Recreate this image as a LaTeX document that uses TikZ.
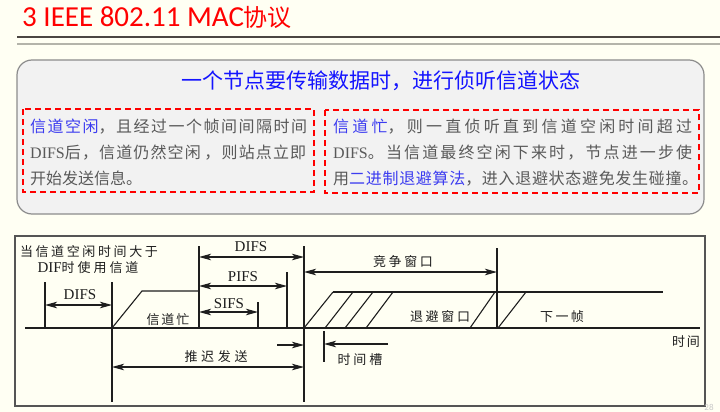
\documentclass[tikz,border=0pt]{standalone}
\usepackage{fontspec}
\setmainfont{Liberation Serif}
\newfontfamily\cjk{Noto Sans CJK SC}
\newfontfamily\titlefont{Carlito}
\usetikzlibrary{arrows.meta}

\definecolor{pagebg}{RGB}{255,255,243}
\definecolor{titlered}{RGB}{255,0,0}
\definecolor{headblue}{RGB}{20,20,255}
\definecolor{linkblue}{RGB}{60,60,240}
\definecolor{textgray}{RGB}{89,89,89}
\definecolor{panelfill}{RGB}{242,242,242}
\definecolor{panelborder}{RGB}{140,140,140}
\definecolor{ruledark}{RGB}{75,70,65}
\definecolor{rulelight}{RGB}{180,180,170}
\definecolor{linedark}{RGB}{30,30,30}
\definecolor{framegray}{RGB}{85,85,85}
\definecolor{pagegray}{RGB}{200,200,200}

% spread CJK characters over a given width
\newcount\cjkcnt
\newXeTeXintercharclass\cjkclass
\cjkcnt="4E00
\loop
  \XeTeXcharclass\cjkcnt=\cjkclass
  \advance\cjkcnt by 1
\ifnum\cjkcnt<"A000 \repeat
\XeTeXcharclass"3001=\cjkclass
\XeTeXcharclass"3002=\cjkclass
\XeTeXcharclass"FF0C=\cjkclass
\XeTeXinterchartoks\cjkclass\cjkclass={\hskip 0pt plus 1fil\relax}
\newcommand\spread[2]{\hbox to #1{\XeTeXinterchartokenstate=1 #2}}

\tikzset{
  tick/.style={line width=1.1pt, draw=linedark},
  dim/.style={line width=1.1pt, draw=linedark, {Stealth[length=12pt,width=6.5pt,inset=3pt]}-{Stealth[length=12pt,width=6.5pt,inset=3pt]}},
  oneway/.style={line width=1.1pt, draw=linedark, -{Stealth[length=12pt,width=6.5pt,inset=3pt]}},
  lbl/.style={font=\fontsize{15pt}{15pt}\selectfont, text=linedark, inner sep=0pt},
  clbl/.style={font=\cjk\fontsize{13pt}{13pt}\selectfont, text=linedark, inner sep=0pt},
  boxtext/.style={font=\fontsize{16pt}{16pt}\selectfont, text=textgray, anchor=base west, inner sep=0pt},
  dashbox/.style={draw=titlered, dash pattern=on 6pt off 4pt, line width=1.2pt}
}

\begin{document}
\begin{tikzpicture}[x=1pt,y=-1pt]
    % Background
    \useasboundingbox[fill=pagebg] (0,0) rectangle (720,412);

    % Title and rule lines
    \node[anchor=base west, inner sep=0pt, text=titlered] (title) at (22,27)
        {\titlefont\fontsize{29pt}{29pt}\selectfont 3 IEEE 802.11 MAC{\cjk\fontsize{24pt}{24pt}\selectfont 协议}};
    \draw[line width=2.2pt, draw=ruledark] (17,37) -- (720,37);
    \draw[line width=1.2pt, draw=rulelight] (17,44) -- (720,44);

    % Rounded panel with heading
    \draw[draw=panelborder, fill=panelfill, line width=1.2pt, rounded corners=15pt] (17,60) rectangle (704,214);
    \node[text=headblue, font=\cjk\fontsize{21pt}{21pt}\selectfont] (heading) at (381,81)
        {一个节点要传输数据时，进行侦听信道状态};

    % Dashed boxes
    \draw[dashbox] (23,109) rectangle (314,192);
    \draw[dashbox] (325,110) rectangle (699,193);

    % Idle channel text
    \node[boxtext] (idle1) at (30,132) {\spread{277pt}{{\cjk\color{linkblue}信道空闲}{\cjk ，且经过一个帧间间隔时间}}};
    \node[boxtext] (idle2) at (30,158) {\spread{276pt}{DIFS{\cjk 后，信道仍然空闲 ，则站点立即}}};
    \node[boxtext] (idle3) at (30,184) {{\cjk 开始发送信息。}};

    % Busy channel text
    \node[boxtext] (busy1) at (333,132) {\spread{359pt}{{\cjk\color{linkblue}信道忙}{\cjk ，则一直侦听直到信道空闲时间超过}}};
    \node[boxtext] (busy2) at (333,158) {\spread{359pt}{DIFS{\cjk 。当信道最终空闲下来时，节点进一步使}}};
    \node[boxtext] (busy3) at (333,184) {\spread{365pt}{{\cjk 用{\color{linkblue}二进制退避算法}，进入退避状态避免发生碰撞。}}};

    % Timing diagram frame
    \draw[line width=1.5pt, draw=framegray] (15,236) rectangle (705,406);

    % Time axis
    \coordinate (axisL) at (25,328);
    \coordinate (axisR) at (700,328);
    \draw[tick] (axisL) -- (axisR);
    \node[clbl] (timelbl) at (686,342) {\spread{28pt}{时间}};

    % Time marks
    \coordinate (m1) at (45,328);
    \coordinate (m2) at (112,328);
    \coordinate (m3) at (199,328);
    \coordinate (m4) at (258,328);
    \coordinate (m5) at (287,328);
    \coordinate (m6) at (304,328);
    \coordinate (m7) at (497,328);
    \coordinate (slot) at (324,331);
    \draw[tick] (m1) -- ++(0,-46);
    \draw[tick] (m2) -- ++(0,-46);
    \draw[tick] (m3) -- ++(0,-82);
    \draw[tick] (m4) -- ++(0,-26);
    \draw[tick] (m5) -- ++(0,-56);
    \draw[tick] (m6) -- ++(0,-82);
    \draw[tick] (m7) -- ++(0,-80);
    \draw[tick] (m2) -- ++(0,74);
    \draw[tick] (m6) -- ++(0,74);
    \draw[tick] (slot) -- ++(0,31);

    % Note at top left
    \node[clbl] (note1) at (89,252) {\spread{138pt}{当信道空闲时间大于}};
    \node[clbl] (note2) at (88,268) {\spread{101pt}{{\rmfamily\fontsize{15pt}{15pt}\selectfont DIF}时使用信道}};

    % Busy medium
    \draw[tick] (m2) -- (142,291) -- (m3 |- 0,291);
    \node[clbl] (busylbl) at (168,320) {\spread{43pt}{信道忙}};

    % Contention slots and next frame
    \draw[tick] (333,292) -- (663,292);
    \draw[tick] (m6) -- (333,292);
    \draw[tick] (325,328) -- (353,292);
    \draw[tick] (345,328) -- (373,292);
    \draw[tick] (366,328) -- (393,292);
    \draw[tick] (470,328) -- (495,292);
    \draw[tick] (498,328) -- (526,292);
    \node[clbl] (backoff) at (440,317) {\spread{60pt}{退避窗口}};
    \node[clbl] (next) at (562,317) {\spread{44pt}{下一帧}};

    % Interval arrows
    \draw[dim] (m1 |- 0,305) -- (m2 |- 0,305);
    \node[lbl] (difsA) at (80,295) {DIFS};
    \draw[dim] (m3 |- 0,257) -- (m6 |- 0,257);
    \node[lbl] (difsB) at (251,247) {DIFS};
    \draw[dim] (m3 |- 0,286) -- (m5 |- 0,286);
    \node[lbl] (pifs) at (243,277) {PIFS};
    \draw[dim] (m3 |- 0,312) -- (m4 |- 0,312);
    \node[lbl] (sifs) at (229,304) {SIFS};
    \draw[dim] (m6 |- 0,272) -- (m7 |- 0,272);
    \node[clbl] (cw) at (403,262) {\spread{60pt}{竞争窗口}};
    \draw[dim] (m2 |- 0,367) -- (m6 |- 0,367);
    \node[clbl] (defer) at (216,357) {\spread{63pt}{推迟发送}};
    \draw[oneway] (277,345) -- (m6 |- 0,345);
    \draw[oneway] (388,344) -- (slot |- 0,344);
    \node[clbl] (slotlbl) at (360,360) {\spread{45pt}{时间槽}};

    % Page number
    \node[font=\titlefont\fontsize{9pt}{9pt}\selectfont, text=pagegray, inner sep=0pt] (pageno) at (709,407) {28};
\end{tikzpicture}
\end{document}
